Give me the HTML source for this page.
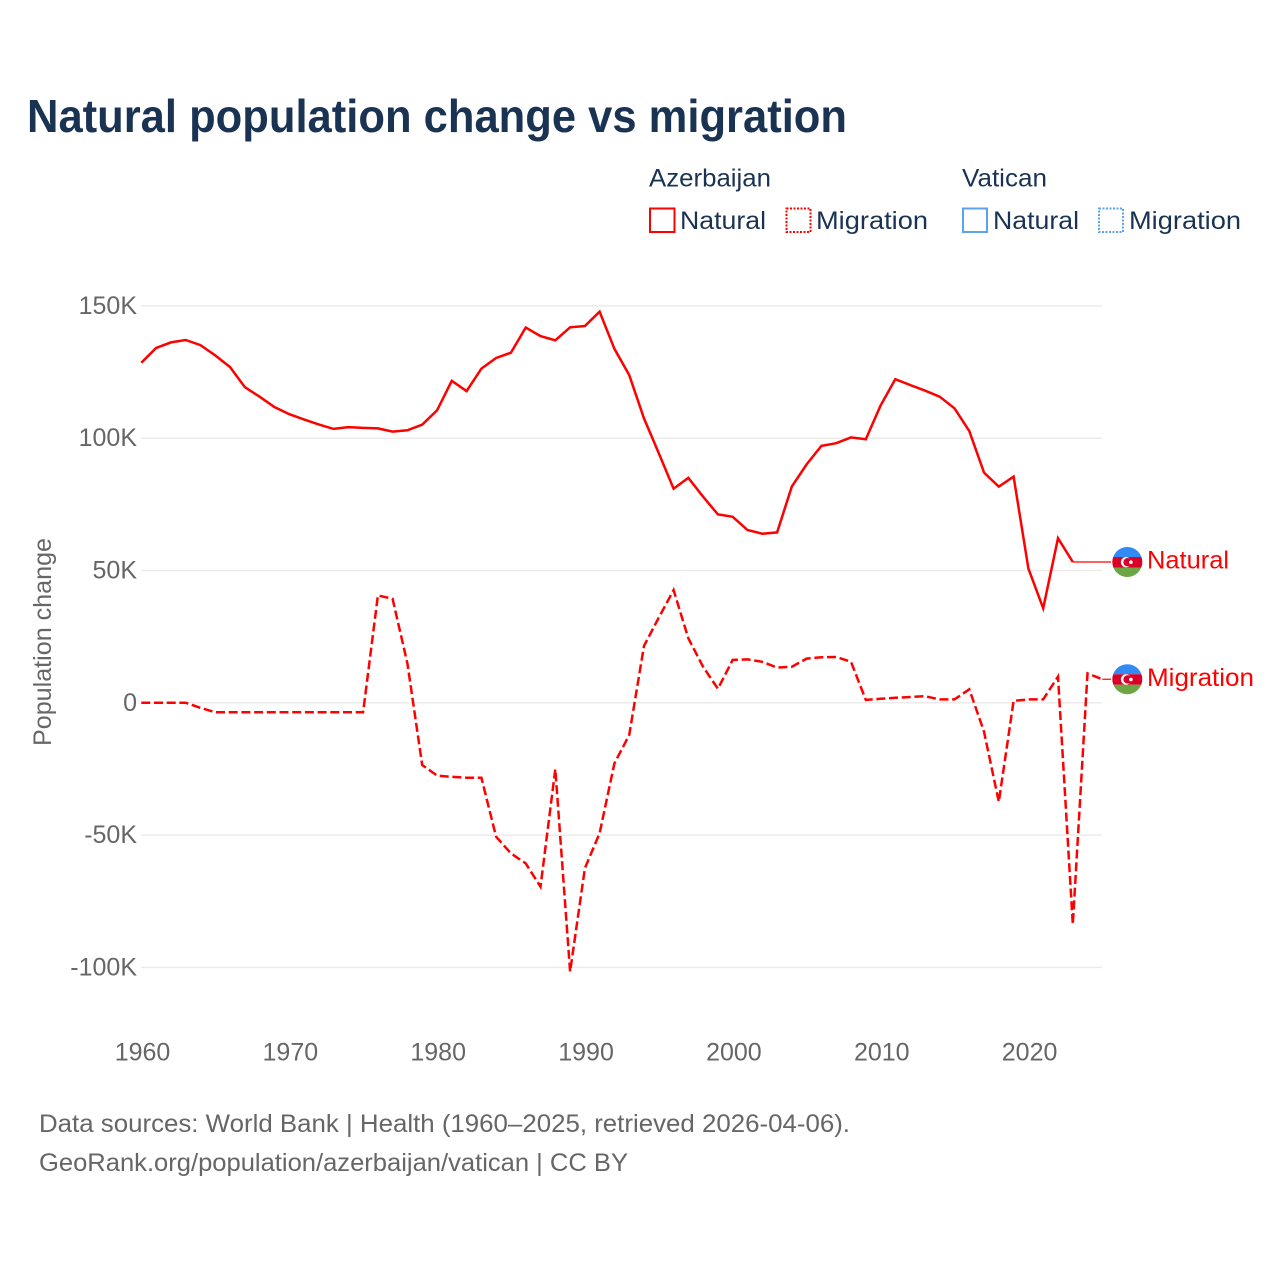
<!DOCTYPE html>
<html lang="en">
<head>
<meta charset="utf-8">
<title>Natural population change vs migration</title>
<style>
  html, body { margin: 0; padding: 0; background: #fff; }
  svg { display: block; font-family: "Liberation Sans", sans-serif; }
  .tick { font-size: 25px; fill: #666; }
  .legend { font-size: 25px; fill: #1a3353; }
  .foot { font-size: 25px; fill: #666; }
  .series-label { font-size: 25px; fill: #ff0000; }
</style>
</head>
<body>
<svg id="chart" xmlns="http://www.w3.org/2000/svg" width="1280" height="1280" viewBox="0 0 1280 1280">
  <defs>
    <clipPath id="flag-clip"><circle cx="0" cy="0" r="15"></circle></clipPath>
  </defs>
  <rect width="1280" height="1280" fill="#fff"></rect>
  <text x="27" y="132" font-size="46" font-weight="700" fill="#1a3353" textLength="820" lengthAdjust="spacingAndGlyphs">Natural population change vs migration</text>

  <g>
    <text class="legend" x="649" y="186.5" textLength="122" lengthAdjust="spacingAndGlyphs">Azerbaijan</text>
    <text class="legend" x="962" y="186.5" textLength="85" lengthAdjust="spacingAndGlyphs">Vatican</text>
    <g>
      <rect x="650" y="208.5" width="24.5" height="23.5" fill="none" stroke="#ff0000" stroke-width="2"></rect>
      <text class="legend" x="680" y="229" textLength="86" lengthAdjust="spacingAndGlyphs">Natural</text>
    </g>
    <g>
      <rect x="786.5" y="208.5" width="24" height="23.5" fill="none" stroke="#ff0000" stroke-width="2" stroke-dasharray="2,1.5"></rect>
      <text class="legend" x="816" y="229" textLength="112" lengthAdjust="spacingAndGlyphs">Migration</text>
    </g>
    <g>
      <rect x="963" y="208.5" width="24" height="23.5" fill="none" stroke="#5ba3ee" stroke-width="2"></rect>
      <text class="legend" x="993" y="229" textLength="86" lengthAdjust="spacingAndGlyphs">Natural</text>
    </g>
    <g>
      <rect x="1099" y="208.5" width="24" height="23.5" fill="none" stroke="#5ba3ee" stroke-width="2" stroke-dasharray="2,1.5"></rect>
      <text class="legend" x="1129" y="229" textLength="112" lengthAdjust="spacingAndGlyphs">Migration</text>
    </g>
  </g>

  <g id="grid"></g>
  <g id="y-ticks"></g>
  <g id="x-ticks"></g>
  <text class="tick" transform="translate(51,642) rotate(-90)" text-anchor="middle" textLength="208" lengthAdjust="spacingAndGlyphs">Population change</text>
  <g id="series"></g>
  <g id="end-labels"></g>

  <text class="foot" x="39" y="1132" textLength="811" lengthAdjust="spacingAndGlyphs">Data sources: World Bank | Health (1960–2025, retrieved 2026-04-06).</text>
  <text class="foot" x="39" y="1171" textLength="589" lengthAdjust="spacingAndGlyphs">GeoRank.org/population/azerbaijan/vatican | CC BY</text>
</svg>
<script>
const startYear = 1960;
const naturalValues = [128.5,134.1,136.2,137.1,135.2,131.3,126.9,119.3,115.7,111.8,109.1,107.1,105.2,103.5,104.2,103.9,103.7,102.5,103,105.1,110.5,121.7,117.8,126.3,130.3,132.3,141.8,138.6,137,141.9,142.4,147.8,133.8,123.9,107.5,94.3,80.9,85,77.9,71.2,70.3,65.3,63.9,64.4,81.7,90.1,97.1,98.1,100.3,99.6,112.3,122.3,120.1,118,115.7,111.3,102.7,87,81.7,85.5,50.7,35.7,62.2,53.2];
const migrationValues = [0,0,0,0,-1.9,-3.6,-3.6,-3.6,-3.6,-3.6,-3.6,-3.6,-3.6,-3.6,-3.6,-3.6,40.6,39.3,14.9,-23.5,-27.5,-28,-28.3,-28.3,-50.6,-56.9,-60.7,-69.5,-25.1,-101.6,-62.5,-49.3,-22.9,-12.2,21.5,32.2,42.6,24.4,13.6,5.3,16.2,16.4,15.5,13.3,13.6,16.7,17.2,17.3,15.5,1.1,1.5,1.9,2.2,2.5,1.3,1.3,5.1,-10.9,-37.4,0.7,1.3,1.3,9.9,-83.7,11.1,8.9];
const yTickValues = [150,100,50,0,-50,-100];
const yTickLabels = ['150K','100K','50K','0','-50K','-100K'];
const xTickValues = [1960,1970,1980,1990,2000,2010,2020];

const NS = 'http://www.w3.org/2000/svg';
function xScale(year) { return 141.3 + (year - 1960) * 14.785; }
function yScale(value) { return 702.8 - value * 2.646; }
function make(tag, attrs, parent, text) {
  const el = document.createElementNS(NS, tag);
  Object.keys(attrs).forEach(function (k) { el.setAttribute(k, attrs[k]); });
  if (text !== undefined) el.textContent = text;
  parent.appendChild(el);
  return el;
}
const gridG = document.getElementById('grid');
const yG = document.getElementById('y-ticks');
const xG = document.getElementById('x-ticks');
const seriesG = document.getElementById('series');
const endG = document.getElementById('end-labels');

yTickValues.forEach(function (v, i) {
  const line = make('line', { x1: 141, x2: 1102, y1: yScale(v), y2: yScale(v), stroke: '#ebebeb', 'stroke-width': 1.5 }, gridG);
  
  
  const label = make('text', { x: 137, y: yScale(v) + 8, 'text-anchor': 'end', class: 'tick' }, yG, yTickLabels[i]);
  
  
});
xTickValues.forEach(function (y) {
  const label = make('text', { x: xScale(y) + 1.2, y: 1060.5, 'text-anchor': 'middle', class: 'tick' }, xG, String(y));
  
  
});
function points(values) {
  return values.map(function (v, i) { return xScale(startYear + i).toFixed(1) + ',' + yScale(v).toFixed(1); }).join(' ');
}
const naturalLine = make('polyline', { points: points(naturalValues), fill: 'none', stroke: '#ff0000', 'stroke-width': 2.5, 'stroke-linejoin': 'miter' }, seriesG);


const migrationLine = make('polyline', { points: points(migrationValues), fill: 'none', stroke: '#ff0000', 'stroke-width': 2.5, 'stroke-dasharray': '9,3.7' }, seriesG);



function endLabel(values, text, width, slug) {
  const lastIndex = values.length - 1;
  const cy = yScale(values[lastIndex]);
  const connector = make('line', { x1: xScale(startYear + lastIndex), x2: 1111, y1: cy, y2: cy, stroke: '#ff0000', 'stroke-width': 1.2 }, endG);
  
  
  const flag = make('g', { transform: 'translate(1127.3,' + cy + ')', 'clip-path': 'url(#flag-clip)' }, endG);
  
  
  make('rect', { x: -16, y: -16, width: 32, height: 11, fill: '#338af3' }, flag);
  make('rect', { x: -16, y: -5, width: 32, height: 10.5, fill: '#d80027' }, flag);
  make('rect', { x: -16, y: 5.5, width: 32, height: 11, fill: '#6da544' }, flag);
  make('circle', { cx: -1.3, cy: 0.2, r: 5.2, fill: '#fff' }, flag);
  make('circle', { cx: 0.3, cy: 0.2, r: 4.2, fill: '#d80027' }, flag);
  make('circle', { cx: 3.6, cy: 0.2, r: 1.8, fill: '#fff' }, flag);
  const label = make('text', { x: 1147, y: cy + 6.5, class: 'series-label', textLength: width, lengthAdjust: 'spacingAndGlyphs' }, endG, text);
  
  
}
endLabel(naturalValues, 'Natural', 82, 'natural');
endLabel(migrationValues, 'Migration', 107, 'migration');
</script>
</body>
</html>
